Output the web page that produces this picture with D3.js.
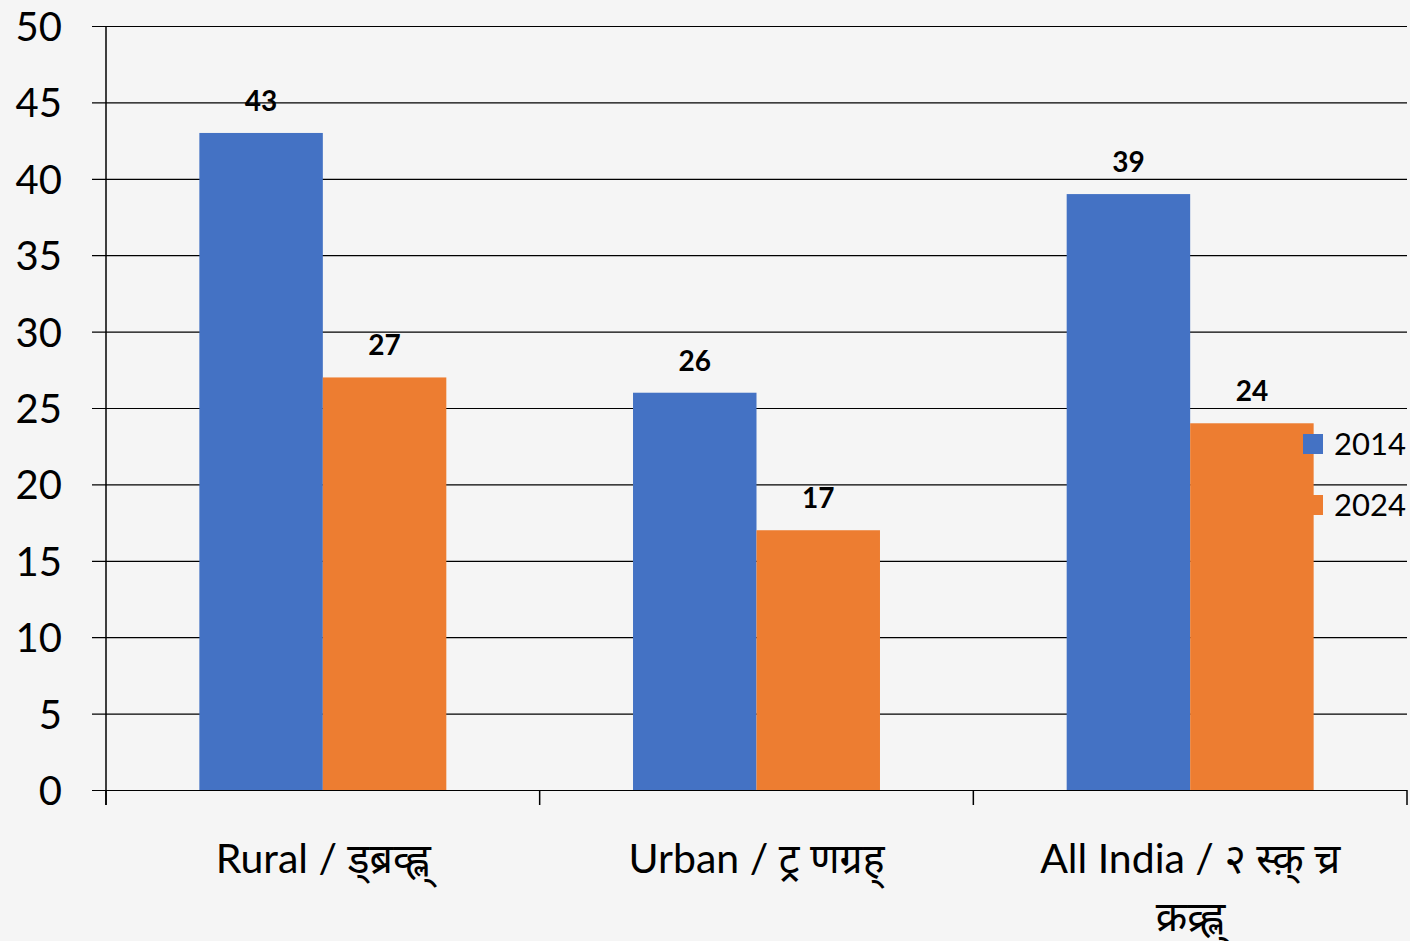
<!DOCTYPE html>
<html>
<head>
<meta charset="utf-8">
<script src="https://cdn.jsdelivr.net/npm/d3@7"></script>
<style>
  body { margin: 0; background: #f5f5f5; }
  svg { display: block; font-family: Lato, "Noto Sans", "Noto Sans Devanagari", sans-serif; }
</style>
</head>
<body>
<div id="chart"></div>
<script>
// Chart data
var categories = ["Rural", "Urban", "All India"];
var catLabels = [
    ["Rural / ड्ब्रव्ह्ल्"],
    ["Urban / ट्र णग्रह्"],
    ["All India / २ स्क़् च्र", "क्रव्र्ह्ल्"]
];
var series = ["2014", "2024"];
var values2014 = [43, 26, 39];
var values2024 = [27, 17, 24];
var colors = ["#4472c4", "#ed7d31"];
var yTicks = [0, 5, 10, 15, 20, 25, 30, 35, 40, 45, 50];

var rows = categories.map(function(c, i) {
    return { cat: c, vals: [values2014[i], values2024[i]] };
});

// Size settings
var W = 1410, H = 941;
var plotLeft = 106, plotRight = 1407, plotTop = 26, plotBottom = 790;

var svg = d3.select("#chart").append("svg")
    .attr("width", W)
    .attr("height", H);

svg.append("rect").attr("width", W).attr("height", H).attr("fill", "#f5f5f5");

// Scales
var y = d3.scaleLinear().domain([0, 50]).range([plotBottom, plotTop]);
var x0 = d3.scaleBand().domain(categories).range([plotLeft, plotRight]).padding(0);
var x1 = d3.scaleBand().domain(series).range([0, x0.bandwidth()]).paddingInner(0).paddingOuter(0.756);

// Gridlines + y labels
var yAxis = d3.axisLeft(y)
    .tickValues(yTicks)
    .tickSize(-(plotRight - 92))
    .tickPadding(30);

var gy = svg.append("g")
    .attr("transform", "translate(92,0)")
    .call(yAxis);
gy.select(".domain").remove();
gy.selectAll(".tick line").attr("stroke", "#000").attr("stroke-width", 1.2);
gy.selectAll(".tick text")
    .attr("fill", "#000")
    .style("font-size", "40px")
    .style("font-family", "Lato, sans-serif")
    .attr("dy", "0.36em");

// y axis line
svg.append("line")
    .attr("x1", plotLeft).attr("x2", plotLeft)
    .attr("y1", plotTop).attr("y2", plotBottom + 15)
    .attr("stroke", "#000").attr("stroke-width", 1.5);

// category tick marks
var bounds = categories.map(function(c) { return x0(c); }).concat([plotRight]);
svg.selectAll(".cattick")
    .data(bounds)
    .enter().append("line")
    .attr("class", "cattick")
    .attr("x1", function(d) { return d; })
    .attr("x2", function(d) { return d; })
    .attr("y1", plotBottom)
    .attr("y2", plotBottom + 15)
    .attr("stroke", "#000").attr("stroke-width", 1.5);

// Bars
var groups = svg.selectAll(".grp")
    .data(rows)
    .enter().append("g")
    .attr("class", "grp")
    .attr("transform", function(d) { return "translate(" + x0(d.cat) + ",0)"; });

groups.selectAll("rect")
    .data(function(d) { return d.vals.map(function(v, i) { return { s: series[i], v: v, c: colors[i] }; }); })
    .enter().append("rect")
    .attr("x", function(d) { return x1(d.s); })
    .attr("y", function(d) { return y(d.v); })
    .attr("width", x1.bandwidth())
    .attr("height", function(d) { return plotBottom - y(d.v); })
    .attr("fill", function(d) { return d.c; });

groups.selectAll(".val")
    .data(function(d) { return d.vals.map(function(v, i) { return { s: series[i], v: v }; }); })
    .enter().append("text")
    .attr("class", "val")
    .attr("x", function(d) { return x1(d.s) + x1.bandwidth() / 2; })
    .attr("y", function(d) { return y(d.v) - 22; })
    .attr("text-anchor", "middle")
    .style("font-size", "28px")
    .style("font-weight", "bold")
    .text(function(d) { return d.v; });

// Category labels
categories.forEach(function(c, i) {
    var t = svg.append("text")
        .attr("x", x0(c) + x0.bandwidth() / 2)
        .attr("y", 873)
        .attr("text-anchor", "middle")
        .style("font-size", "41px")
        .attr("fill", "#000");
    catLabels[i].forEach(function(line, j) {
        t.append("tspan")
            .attr("x", x0(c) + x0.bandwidth() / 2)
            .attr("dy", j === 0 ? 0 : 58)
            .text(line);
    });
});

// Legend
var legend = svg.selectAll(".leg")
    .data(series)
    .enter().append("g")
    .attr("class", "leg")
    .attr("transform", function(d, i) { return "translate(1303," + (434 + i * 61) + ")"; });

legend.append("rect")
    .attr("width", 20).attr("height", 20)
    .attr("fill", function(d, i) { return colors[i]; });

legend.append("text")
    .attr("x", 31)
    .attr("y", 10)
    .attr("dy", "0.36em")
    .style("font-size", "31px")
    .text(function(d) { return d; });
</script>
</body>
</html>
